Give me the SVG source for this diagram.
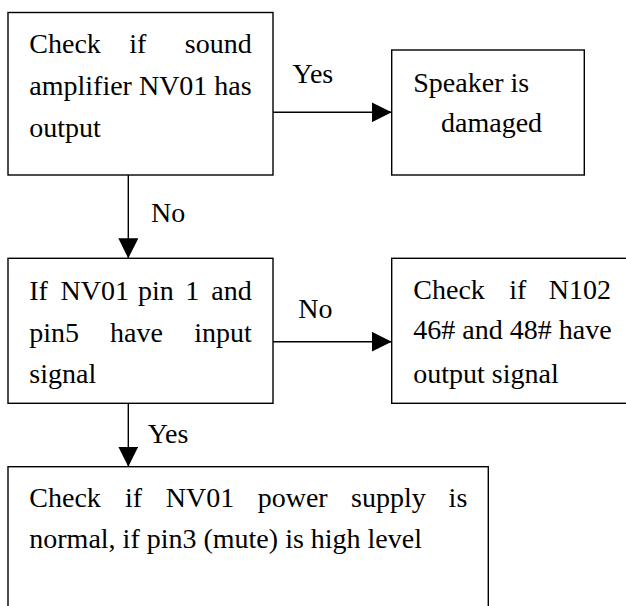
<svg xmlns="http://www.w3.org/2000/svg" width="626" height="606" viewBox="0 0 626 606" font-family="Liberation Serif, Times New Roman, serif" font-size="28">
<style>
.box{fill:#fff;stroke:#000;stroke-width:1.4}
text{font-family:"Liberation Serif","Times New Roman",serif;font-size:28px;fill:#000}
.e{text-anchor:end}
.c{stroke:#000;stroke-width:1.4;fill:none}
</style>
<defs>
<marker id="ah" markerWidth="20" markerHeight="20" viewBox="0 0 20 20" refX="20" refY="10" orient="auto" markerUnits="userSpaceOnUse">
<path d="M0,0 L20,10 L0,20 Z" fill="#000"/>
</marker>
</defs>
<g id="connectors">
<line class="c" x1="273" y1="112.3" x2="391.7" y2="112.3" marker-end="url(#ah)"/>
<text x="292.5" y="83">Yes</text>
<line class="c" x1="128.3" y1="175" x2="128.3" y2="258.3" marker-end="url(#ah)"/>
<text x="151" y="221.7">No</text>
<line class="c" x1="273" y1="341.7" x2="391.7" y2="341.7" marker-end="url(#ah)"/>
<text x="298.3" y="318.3">No</text>
<line class="c" x1="128.3" y1="403.3" x2="128.3" y2="466.7" marker-end="url(#ah)"/>
<text x="147.7" y="442.7">Yes</text>
</g>
<g id="n1">
<rect class="box" x="8" y="12.5" width="265" height="162.5"/>
<text y="53.3"><tspan x="29.3">Check</tspan><tspan x="129.3">if</tspan></text>
<text class="e" x="251.7" y="53.3">sound</text>
<text x="29.3" y="95">amplifier NV01 has</text>
<text x="29.3" y="136.7">output</text>
</g>
<g id="n2">
<rect class="box" x="391.7" y="50" width="192.6" height="125"/>
<text x="413.3" y="91.7">Speaker is</text>
<text x="441" y="132.3">damaged</text>
</g>
<g id="n3">
<rect class="box" x="8" y="258.3" width="265" height="145"/>
<text y="300"><tspan x="29.3">If</tspan><tspan x="60.6">NV01</tspan><tspan x="138">pin</tspan><tspan x="185.2">1</tspan></text>
<text class="e" x="251.7" y="300">and</text>
<text y="341.7"><tspan x="29.3">pin5</tspan><tspan x="110">have</tspan></text>
<text class="e" x="251.7" y="341.7">input</text>
<text x="29.3" y="382.7">signal</text>
</g>
<g id="n4">
<rect class="box" x="391.7" y="258.3" width="240" height="145"/>
<text y="299.3"><tspan x="413.3">Check</tspan><tspan x="509.3">if</tspan></text>
<text class="e" x="611" y="299.3">N102</text>
<text x="413.3" y="339.3">46# and 48# have</text>
<text x="413.3" y="382.7">output signal</text>
</g>
<g id="n5">
<rect class="box" x="8" y="466.7" width="480.3" height="150"/>
<text y="507.3"><tspan x="29.3">Check</tspan><tspan x="125">if</tspan><tspan x="165.7">NV01</tspan><tspan x="257.7">power</tspan><tspan x="351">supply</tspan></text>
<text class="e" x="467.3" y="507.3">is</text>
<text x="29.3" y="548.3">normal, if pin3 (mute) is high level</text>
</g>
</svg>
